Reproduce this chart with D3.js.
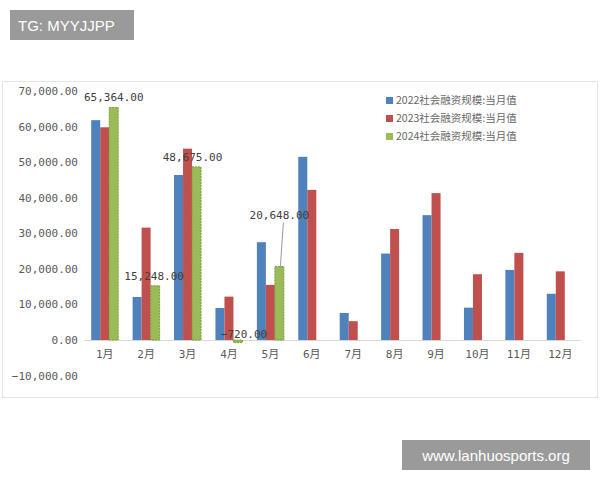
<!DOCTYPE html><html><head><meta charset="utf-8"><script src="https://cdn.jsdelivr.net/npm/d3@7"></script>
<style>body{margin:0;background:#fff}</style></head><body>
<svg id="c" width="600" height="480"></svg>
<script>
const months=["1月","2月","3月","4月","5月","6月","7月","8月","9月","10月","11月","12月"];
const series=["2022社会融资规模:当月值","2023社会融资规模:当月值","2024社会融资规模:当月值"];
const v2022=[61800,12100,46400,9000,27500,51500,7600,24300,35100,9100,19700,13000];
const v2023=[59800,31600,53800,12200,15500,42200,5300,31200,41300,18500,24500,19300];
const v2024=[65364,15248,48675,-720,20648];
const yTicks=[-10000,0,10000,20000,30000,40000,50000,60000,70000];
const colors=["#4f81bd","#c0504d","#9bbb59"];
const mono='"DejaVu Sans Mono","Noto Sans CJK SC",monospace';
const svg=d3.select("#c");
svg.append("rect").attr("x",2.5).attr("y",81.5).attr("width",595).attr("height",316).attr("fill","#fff").attr("stroke","#e4e4e4");
const y=d3.scaleLinear().domain([-10000,70000]).range([375.6,91]);
const x=d3.scaleBand().domain(months).range([84,581]);
const x1=d3.scaleBand().domain([0,1,2]).range([0,x.bandwidth()]).paddingInner(0).paddingOuter(0.8);
const fmt=d3.format(",.2f");
yTicks.forEach(t=>svg.append("text").attr("x",78).attr("y",y(t)+4).attr("text-anchor","end").attr("font-size",11).attr("font-family",mono).attr("fill","#595959").text(fmt(t)));
svg.append("line").attr("x1",84).attr("x2",581).attr("y1",y(0)+0.5).attr("y2",y(0)+0.5).attr("stroke","#d9d9d9");
months.forEach(m=>svg.append("text").attr("x",x(m)+x.bandwidth()/2).attr("y",358).attr("text-anchor","middle").attr("font-size",11).attr("font-family",mono).attr("fill","#595959").text(m));
[v2022,v2023,v2024].forEach((arr,si)=>{
  arr.forEach((v,i)=>{
    const r=svg.append("rect").attr("x",x(months[i])+x1(si)).attr("width",x1.bandwidth())
      .attr("y",y(Math.max(0,v))).attr("height",Math.abs(y(v)-y(0))).attr("fill",colors[si]);
    if(si==2) r.attr("stroke","#7a9a3a").attr("stroke-dasharray","2,1").attr("stroke-width",1);
  });
});
const lbl=[[0,-6,0],[0,-6,-1],[0,-6,-4],[0,-16,6],[0,-48,0]];
v2024.forEach((v,i)=>{
  const cx=x(months[i])+x1(2)+x1.bandwidth()/2;
  let ly=y(Math.max(v,0))+lbl[i][1], lx=cx+lbl[i][2];
  if(i==3) ly=y(0)-2;
  svg.append("text").attr("x",lx).attr("y",ly).attr("text-anchor","middle").attr("font-size",11).attr("font-family",mono).attr("fill","#404040").text(fmt(v));
  if(i==4) svg.append("line").attr("x1",cx+1).attr("y1",y(v)).attr("x2",cx+4).attr("y2",y(v)-44).attr("stroke","#999");
});
series.forEach((s,i)=>{
  svg.append("rect").attr("x",386).attr("y",97+i*18).attr("width",7).attr("height",7).attr("fill",colors[i]);
  svg.append("text").attr("x",396).attr("y",104+i*18).attr("font-size",10.5).attr("fill","#666").attr("font-family","Noto Sans CJK SC").text(s);
});
svg.append("rect").attr("x",10).attr("y",10).attr("width",124).attr("height",30).attr("fill","#9a9a9a");
svg.append("text").attr("x",18).attr("y",31).attr("font-size",15).attr("fill","#fff").attr("font-family","Liberation Sans").text("TG: MYYJJPP");
svg.append("rect").attr("x",402).attr("y",440).attr("width",188).attr("height",30).attr("fill","#9a9a9a");
svg.append("text").attr("x",496).attr("y",461).attr("text-anchor","middle").attr("font-size",15).attr("fill","#fff").attr("font-family","Liberation Sans").text("www.lanhuosports.org");
</script></body></html>
